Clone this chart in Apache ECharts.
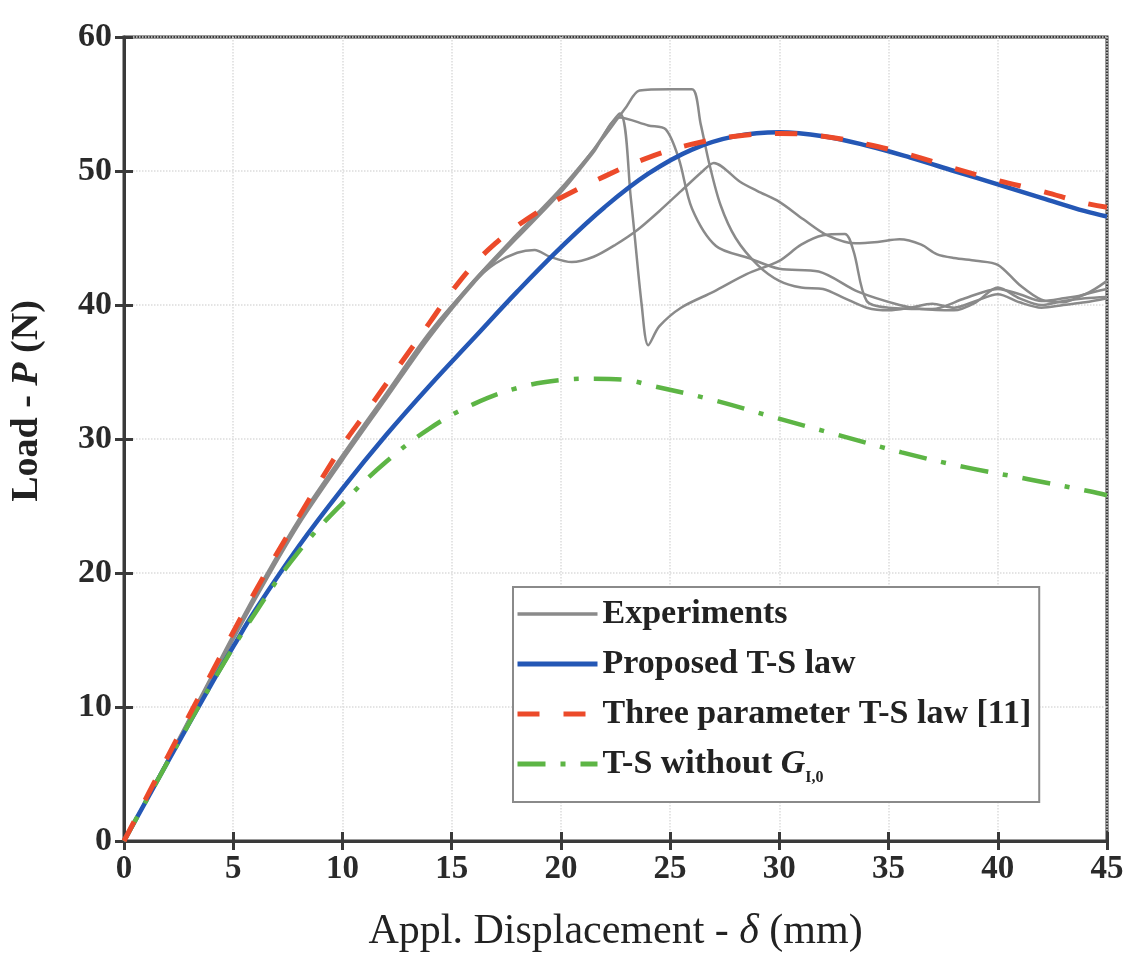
<!DOCTYPE html>
<html>
<head>
<meta charset="utf-8">
<script src="https://cdn.jsdelivr.net/npm/echarts@6/dist/echarts.min.js"></script>
<style>
html,body{margin:0;padding:0;background:#fff;}
#chart{width:1127px;height:958px;}
</style>
</head>
<body>
<div id="chart"></div>
<script>
// ---- data ----
var xTicks = [0, 5, 10, 15, 20, 25, 30, 35, 40, 45];
var yTicks = [0, 10, 20, 30, 40, 50, 60];

var exp1X = [0,2,4,6,8,10,12,14,16,18,20,21.5,22.7,23.2,23.7,24,24.5,25.5,27,28.5,30,31,32,33,33.4,34,35,37,38.5,40,41,42,43,44,45];
var exp1Y = [0,6,12.2,18.2,23.8,28.6,33.2,37.8,41.8,45.2,48.6,51.6,54.3,48,40,37,38.4,39.8,41,42.3,43.3,44.5,45.2,45.3,44,40.3,39.8,39.7,40.5,41.2,40.8,40.3,40.5,40.8,41.8];

var exp2X = [0,2,4,6,8,10,12,14,16,18,20,21.5,22.7,24,24.8,25.4,26,27.1,28.6,30,31.8,33.6,35.5,36.5,38,39,40,41,42,43,44,45];
var exp2Y = [0,5.9,12,18,23.6,28.4,33,37.6,41.6,45,48.4,51.4,54,53.4,53.1,50.9,47.2,44.4,43.5,42.7,42.5,41,40,39.7,39.6,40.2,41.3,40.5,40,40.3,40.5,40.6];

var exp3X = [0,2,4,6,8,10,12,14,16,18,20,22,23,23.6,25,26,26.4,26.8,27.3,28,29,30,31,32,33,34,35,36,37,38,39,40,41,42,43,44,45];
var exp3Y = [0,6,12.2,18.2,23.8,28.6,33.3,37.9,41.8,45.3,48.7,52.6,54.8,56,56.1,56.1,53.5,50.5,47.5,45,43,41.8,41.3,41.2,40.5,39.8,39.6,39.8,40.1,39.8,40.3,40.8,40.2,39.8,40,40.2,40.5];

var exp4X = [0,2,4,6,8,10,12,14,16,17,18,18.8,19.5,20.5,21.5,22.5,23.5,24.5,25.5,26.5,27,28.2,29,30,31.1,32.2,33.5,34.5,35.5,36.5,37.2,38,39,40,41,42,43,44,45];
var exp4Y = [0,6.1,12.3,18.4,24,28.8,33.4,38,41.7,43.1,43.9,44.1,43.6,43.2,43.6,44.5,45.6,47,48.5,50,50.6,49.2,48.5,47.7,46.4,45.2,44.6,44.7,44.9,44.5,43.8,43.5,43.3,43,41.5,40.4,40.2,40.8,41.2];

var propX = [0,2,4,5,6,8,10,12,14,16,18,20,22,24,26,28,30,32,34,36,38,40,42,44,45];
var propY = [0,5.9,11.7,14.5,17.2,22,26.3,30.3,34,37.5,41,44.3,47.3,49.8,51.6,52.6,52.9,52.6,51.9,51,50,49,48,47,46.6];

var threeX = [0,2,4,6,8,10,11,12,13,14,15,16,17,18,19,20,22,24,26,28,30,32,34,36,38,40,42,44,45];
var threeY = [0,6.3,12.5,18.6,24.2,29.5,31.8,34.1,36.4,38.7,41,43,44.6,45.9,47,48,49.6,51,52,52.6,52.8,52.6,52,51.2,50.2,49.3,48.5,47.6,47.3];

var noGX = [0,2,4,6,8,10,12,14,16,18,20,21.5,23,24.1,27,29.8,32.7,35.6,38.5,41.4,44.2,45];
var noGY = [0,5.9,11.7,17,21.6,25.2,28.3,30.8,32.6,33.8,34.4,34.5,34.4,34,32.9,31.6,30.3,29,27.9,27,26.1,25.8];

var seriesNames = ['Experiments', 'Proposed T-S law', 'Three parameter T-S law [11]', 'T-S without G'];

function zip(xs, ys) { return xs.map(function (x, i) { return [x, ys[i]]; }); }

var FONT = 'Liberation Serif';
var chart = echarts.init(document.getElementById('chart'), null, {renderer: 'canvas'});

function expSeries(xs, ys) {
  return {
    name: seriesNames[0], type: 'line', data: zip(xs, ys), symbol: 'none', smooth: 0.3,
    lineStyle: {color: '#8a8a8a', width: 2.5}, itemStyle: {color: '#8a8a8a'}, z: 2
  };
}

var option = {
  backgroundColor: '#ffffff',
  animation: false,
  grid: {left: 117, right: 20, top: 37, bottom: 111, show: true, borderColor: '#3a3a3a', borderWidth: 3, backgroundColor: 'transparent'},
  legend: {
    show: true,
    data: [
      {name: seriesNames[0], lineStyle: {width: 3.5}},
      {name: seriesNames[1], lineStyle: {width: 5}},
      {name: seriesNames[2], lineStyle: {width: 5}},
      {name: seriesNames[3], lineStyle: {width: 5}}
    ],
    orient: 'vertical',
    left: 513, top: 587,
    itemWidth: 80, itemHeight: 14, itemGap: 16,
    padding: [10, 8, 16, 2],
    borderColor: '#8a8a8a', borderWidth: 2, backgroundColor: '#ffffff',
    itemStyle: {opacity: 0},
    formatter: function (n) { return n === 'T-S without G' ? 'T-S without {i|G}{sub|I,0}' : n; },
    textStyle: {
      fontFamily: FONT, fontSize: 34, fontWeight: 'bold', color: '#222',
      rich: {
        i: {fontFamily: FONT, fontSize: 34, fontWeight: 'bold', fontStyle: 'italic', color: '#222'},
        sub: {fontFamily: FONT, fontSize: 16, fontWeight: 'bold', color: '#222', padding: [28, 0, 0, 0]}
      }
    }
  },
  xAxis: [{
    type: 'value', min: 0, max: 45, interval: 5,
    name: 'Appl. Displacement - {i|δ} (mm)', nameLocation: 'middle', nameGap: 70,
    nameTextStyle: {fontFamily: FONT, fontSize: 42, color: '#222',
      rich: {i: {fontFamily: FONT, fontSize: 42, fontStyle: 'italic', color: '#222'}}},
    axisLine: {show: true, lineStyle: {color: '#3a3a3a', width: 3}},
    axisTick: {show: true, inside: false, length: 9, lineStyle: {color: '#3a3a3a', width: 3}},
    axisLabel: {fontFamily: FONT, fontSize: 33, fontWeight: 'bold', color: '#2a2a2a', margin: 12},
    splitLine: {show: true, lineStyle: {color: '#dcdcdc', width: 1.5, type: 'dotted'}}
  }, {
    type: 'value', min: 0, max: 45, interval: 5, position: 'bottom',
    axisLine: {show: false}, axisLabel: {show: false}, splitLine: {show: false},
    axisTick: {show: true, inside: true, length: 9, lineStyle: {color: '#3a3a3a', width: 3}}
  }],
  yAxis: [{
    type: 'value', min: 0, max: 60, interval: 10,
    name: 'Load - {i|P} (N)', nameLocation: 'middle', nameGap: 78,
    nameTextStyle: {fontFamily: FONT, fontSize: 38, fontWeight: 'bold', color: '#222', padding: [0, 0, 0, 76],
      rich: {i: {fontFamily: FONT, fontSize: 38, fontWeight: 'bold', fontStyle: 'italic', color: '#222'}}},
    axisLine: {show: true, lineStyle: {color: '#3a3a3a', width: 3}},
    axisTick: {show: true, inside: false, length: 9, lineStyle: {color: '#3a3a3a', width: 3}},
    axisLabel: {fontFamily: FONT, fontSize: 34, fontWeight: 'bold', color: '#2a2a2a', margin: 12},
    splitLine: {show: true, lineStyle: {color: '#dcdcdc', width: 1.5, type: 'dotted'}}
  }, {
    type: 'value', min: 0, max: 60, interval: 10, position: 'left',
    axisLine: {show: false}, axisLabel: {show: false}, splitLine: {show: false},
    axisTick: {show: true, inside: true, length: 9, lineStyle: {color: '#3a3a3a', width: 3}}
  }],
  series: [
    expSeries(exp1X, exp1Y),
    expSeries(exp2X, exp2Y),
    expSeries(exp3X, exp3Y),
    expSeries(exp4X, exp4Y),
    {name: seriesNames[1], type: 'line', data: zip(propX, propY), symbol: 'none', smooth: 0.4,
      lineStyle: {color: '#2457b5', width: 4.5}, itemStyle: {color: '#2457b5'}, z: 3},
    {name: seriesNames[2], type: 'line', data: zip(threeX, threeY), symbol: 'none', smooth: 0.4,
      lineStyle: {color: '#ec4a2a', width: 5, type: [22, 24]}, itemStyle: {color: '#ec4a2a'}, z: 4},
    {name: seriesNames[3], type: 'line', data: zip(noGX, noGY), symbol: 'none', smooth: 0.4,
      lineStyle: {color: '#5db545', width: 4.5, type: [28, 15, 5, 15]}, itemStyle: {color: '#5db545'}, z: 3}
  ]
};
chart.setOption(option);
</script>
</body>
</html>
